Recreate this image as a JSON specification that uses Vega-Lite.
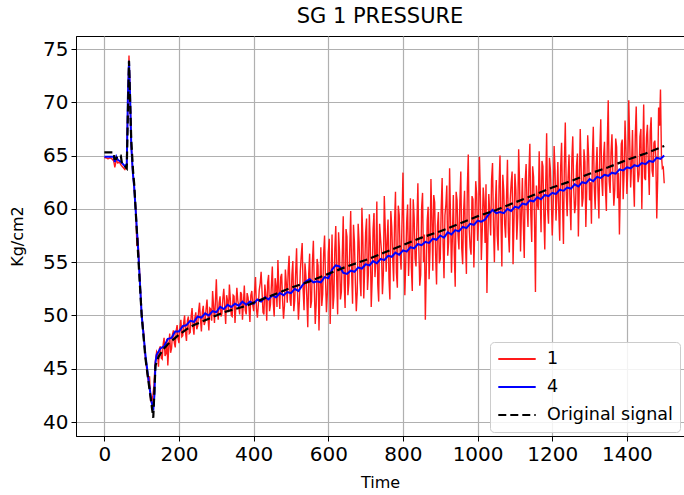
{
  "$schema": "https://vega.github.io/schema/vega-lite/v6.json",
  "width": 608,
  "height": 400,
  "autosize": {"type": "none"},
  "padding": {"left": 76, "top": 36, "right": 0, "bottom": 59},
  "title": {"text": "SG 1 PRESSURE", "fontSize": 21, "font": "DejaVu Sans", "fontWeight": "normal", "color": "#000", "offset": 9},
  "datasets": {
    "red": [
      {"t":0,"v":64.8},{"t":5,"v":64.8},{"t":10,"v":64.7},{"t":15,"v":64.8},{"t":20,"v":64.7},{"t":25,"v":64.5},{"t":28,"v":63.9},{"t":32,"v":64.6},{"t":36,"v":64.3},{"t":40,"v":64.4},{"t":45,"v":64.1},{"t":50,"v":63.9},{"t":55,"v":63.7},{"t":60,"v":64.0},{"t":63,"v":70.0},{"t":66,"v":74.4},{"t":69,"v":70.5},{"t":72,"v":66.0},{"t":76,"v":63.5},{"t":80,"v":62.0},{"t":85,"v":59.5},{"t":87,"v":56.5},{"t":90,"v":57.3},{"t":95,"v":53.5},{"t":100,"v":50.0},{"t":105,"v":48.5},{"t":110,"v":46.0},{"t":115,"v":44.5},{"t":118,"v":43.8},{"t":121,"v":44.3},{"t":124,"v":42.0},{"t":127,"v":41.8},{"t":130,"v":42.5},{"t":133,"v":43.5},{"t":136,"v":45.5},
      {"t":140,"v":46.6},{"t":145,"v":45.2},{"t":150,"v":47.1},{"t":155,"v":45.9},{"t":160,"v":47.9},{"t":165,"v":46.4},{"t":170,"v":45.3},{"t":175,"v":48.3},{"t":180,"v":46.9},{"t":185,"v":48.6},{"t":190,"v":47.0},{"t":195,"v":49.1},
      {"t":200,"v":47.4},{"t":205,"v":49.6},{"t":210,"v":48.1},{"t":215,"v":50.0},{"t":220,"v":47.6},{"t":225,"v":49.9},{"t":230,"v":48.4},{"t":235,"v":50.7},{"t":240,"v":48.2},{"t":245,"v":50.3},{"t":250,"v":49.0},{"t":255,"v":51.2},{"t":260,"v":48.5},{"t":265,"v":50.9},{"t":270,"v":49.4},{"t":275,"v":51.5},{"t":280,"v":48.6},{"t":285,"v":50.6},{"t":290,"v":52.3},{"t":295,"v":49.3},
      {"t":300,"v":53.4},{"t":305,"v":49.6},{"t":310,"v":51.8},{"t":315,"v":50.2},{"t":320,"v":52.5},{"t":325,"v":49.2},{"t":330,"v":51.4},{"t":335,"v":52.9},{"t":340,"v":50.0},{"t":345,"v":51.9},{"t":350,"v":49.3},{"t":355,"v":52.6},{"t":360,"v":50.9},{"t":365,"v":52.2},{"t":370,"v":49.6},{"t":375,"v":52.8},{"t":380,"v":50.1},{"t":385,"v":51.7},{"t":390,"v":49.4},{"t":395,"v":52.3},
      {"t":400,"v":50.4},{"t":405,"v":53.6},{"t":410,"v":49.8},{"t":415,"v":52.4},{"t":420,"v":54.1},{"t":425,"v":50.3},{"t":430,"v":52.9},{"t":435,"v":49.5},{"t":440,"v":53.8},{"t":445,"v":51.0},{"t":450,"v":54.6},{"t":455,"v":49.9},{"t":460,"v":52.7},{"t":465,"v":55.2},{"t":470,"v":50.6},{"t":475,"v":53.9},{"t":480,"v":49.7},{"t":485,"v":54.3},{"t":490,"v":51.2},{"t":495,"v":55.6},
      {"t":500,"v":50.9},{"t":505,"v":55.1},{"t":510,"v":51.4},{"t":515,"v":56.3},{"t":520,"v":49.6},{"t":525,"v":54.2},{"t":530,"v":56.8},{"t":535,"v":50.5},{"t":540,"v":53.7},{"t":545,"v":48.9},{"t":550,"v":55.8},{"t":555,"v":51.3},{"t":560,"v":57.0},{"t":565,"v":49.2},{"t":570,"v":55.3},{"t":575,"v":48.6},{"t":580,"v":56.4},{"t":585,"v":52.0},{"t":590,"v":57.5},{"t":595,"v":50.3},
      {"t":600,"v":55.9},{"t":605,"v":49.2},{"t":610,"v":57.6},{"t":615,"v":51.8},{"t":620,"v":58.4},{"t":625,"v":50.1},{"t":630,"v":56.0},{"t":635,"v":52.2},{"t":640,"v":59.3},{"t":645,"v":50.7},{"t":650,"v":57.4},{"t":655,"v":53.0},{"t":660,"v":59.8},{"t":665,"v":51.1},{"t":670,"v":56.9},{"t":675,"v":50.4},{"t":680,"v":58.6},{"t":685,"v":53.3},{"t":690,"v":60.1},{"t":695,"v":51.6},
      {"t":700,"v":57.8},{"t":705,"v":52.4},{"t":710,"v":59.5},{"t":715,"v":50.8},{"t":720,"v":58.1},{"t":725,"v":53.6},{"t":730,"v":60.7},{"t":735,"v":51.3},{"t":740,"v":57.2},{"t":745,"v":52.0},{"t":750,"v":61.2},{"t":755,"v":54.1},{"t":760,"v":59.0},{"t":765,"v":51.5},{"t":770,"v":58.3},{"t":775,"v":53.2},{"t":780,"v":61.6},{"t":785,"v":52.6},{"t":790,"v":59.4},{"t":795,"v":54.3},
      {"t":800,"v":63.4},{"t":805,"v":51.9},{"t":810,"v":58.8},{"t":815,"v":53.7},{"t":820,"v":61.0},{"t":825,"v":52.3},{"t":830,"v":59.2},{"t":835,"v":54.6},{"t":840,"v":62.4},{"t":845,"v":52.8},{"t":850,"v":60.1},{"t":855,"v":55.0},{"t":860,"v":49.6},{"t":865,"v":58.9},{"t":870,"v":53.4},{"t":875,"v":62.8},{"t":880,"v":54.2},{"t":885,"v":60.6},{"t":890,"v":52.9},{"t":895,"v":59.7},
      {"t":900,"v":55.3},{"t":905,"v":62.9},{"t":910,"v":53.5},{"t":915,"v":60.4},{"t":920,"v":55.6},{"t":925,"v":63.8},{"t":930,"v":54.0},{"t":935,"v":61.3},{"t":940,"v":52.7},{"t":945,"v":60.8},{"t":950,"v":56.2},{"t":955,"v":63.5},{"t":960,"v":54.8},{"t":965,"v":61.7},{"t":970,"v":53.9},{"t":975,"v":65.1},{"t":980,"v":56.4},{"t":985,"v":61.2},{"t":990,"v":54.5},{"t":995,"v":62.6},
      {"t":1000,"v":57.0},{"t":1005,"v":64.9},{"t":1010,"v":55.2},{"t":1015,"v":62.0},{"t":1020,"v":56.8},{"t":1025,"v":52.1},{"t":1030,"v":61.4},{"t":1035,"v":57.5},{"t":1040,"v":64.3},{"t":1045,"v":55.0},{"t":1050,"v":62.7},{"t":1055,"v":56.1},{"t":1060,"v":65.0},{"t":1065,"v":54.6},{"t":1070,"v":61.8},{"t":1075,"v":57.3},{"t":1080,"v":64.6},{"t":1085,"v":55.9},{"t":1090,"v":62.5},{"t":1095,"v":54.8},
      {"t":1100,"v":63.3},{"t":1105,"v":57.1},{"t":1110,"v":65.6},{"t":1115,"v":56.0},{"t":1120,"v":62.9},{"t":1125,"v":55.4},{"t":1130,"v":64.2},{"t":1135,"v":58.3},{"t":1140,"v":66.1},{"t":1145,"v":56.9},{"t":1150,"v":63.0},{"t":1155,"v":52.2},{"t":1160,"v":60.5},{"t":1165,"v":65.4},{"t":1170,"v":57.8},{"t":1175,"v":64.0},{"t":1180,"v":56.2},{"t":1185,"v":67.1},{"t":1190,"v":58.6},{"t":1195,"v":63.7},
      {"t":1200,"v":57.5},{"t":1205,"v":65.9},{"t":1210,"v":58.9},{"t":1215,"v":64.4},{"t":1220,"v":57.0},{"t":1225,"v":66.2},{"t":1230,"v":56.7},{"t":1235,"v":68.1},{"t":1240,"v":59.3},{"t":1245,"v":65.1},{"t":1250,"v":58.0},{"t":1255,"v":66.8},{"t":1260,"v":59.6},{"t":1265,"v":64.0},{"t":1270,"v":57.4},{"t":1275,"v":67.5},{"t":1280,"v":60.2},{"t":1285,"v":65.6},{"t":1290,"v":58.3},{"t":1295,"v":66.9},
      {"t":1300,"v":60.8},{"t":1305,"v":58.6},{"t":1310,"v":67.7},{"t":1315,"v":60.0},{"t":1320,"v":65.8},{"t":1325,"v":59.1},{"t":1330,"v":68.4},{"t":1335,"v":61.2},{"t":1340,"v":66.3},{"t":1345,"v":59.8},{"t":1350,"v":70.2},{"t":1355,"v":61.5},{"t":1360,"v":67.0},{"t":1365,"v":60.3},{"t":1370,"v":66.6},{"t":1375,"v":61.0},{"t":1380,"v":57.6},{"t":1385,"v":66.1},{"t":1390,"v":60.9},{"t":1395,"v":68.3},
      {"t":1400,"v":61.4},{"t":1405,"v":70.2},{"t":1410,"v":62.0},{"t":1415,"v":67.4},{"t":1420,"v":60.2},{"t":1425,"v":69.6},{"t":1430,"v":62.5},{"t":1435,"v":66.8},{"t":1440,"v":60.0},{"t":1445,"v":69.8},{"t":1450,"v":62.7},{"t":1455,"v":67.9},{"t":1460,"v":61.3},{"t":1465,"v":68.6},{"t":1470,"v":63.0},{"t":1475,"v":66.4},{"t":1480,"v":59.1},{"t":1485,"v":69.5},{"t":1490,"v":71.2},{"t":1495,"v":63.8},{"t":1500,"v":62.4},
      {"t":142.5,"v":46.4},{"t":147.5,"v":46.9},{"t":152.5,"v":46.0},{"t":157.5,"v":47.3},{"t":162.5,"v":46.2},{"t":167.5,"v":47.8},{"t":172.5,"v":47.0},{"t":177.5,"v":46.5},{"t":182.5,"v":48.2},{"t":187.5,"v":47.4},{"t":192.5,"v":48.6},{"t":197.5,"v":47.8},
      {"t":202.5,"v":48.9},{"t":207.5,"v":48.0},{"t":212.5,"v":49.3},{"t":217.5,"v":48.4},{"t":222.5,"v":49.5},{"t":227.5,"v":48.3},{"t":232.5,"v":49.9},{"t":237.5,"v":49.0},{"t":242.5,"v":49.8},{"t":247.5,"v":48.7},{"t":252.5,"v":50.4},{"t":257.5,"v":49.6},{"t":262.5,"v":50.3},{"t":267.5,"v":49.1},{"t":272.5,"v":50.6},{"t":277.5,"v":49.9},{"t":282.5,"v":50.7},{"t":287.5,"v":49.5},{"t":292.5,"v":50.9},{"t":297.5,"v":51.3},
      {"t":302.5,"v":50.6},{"t":307.5,"v":51.2},{"t":312.5,"v":49.9},{"t":317.5,"v":51.6},{"t":322.5,"v":50.8},{"t":327.5,"v":51.9},{"t":332.5,"v":50.3},{"t":337.5,"v":51.5},{"t":342.5,"v":49.9},{"t":347.5,"v":51.8},{"t":352.5,"v":50.9},{"t":357.5,"v":51.4},{"t":362.5,"v":50.1},{"t":367.5,"v":52.0},{"t":372.5,"v":51.1},{"t":377.5,"v":50.5},{"t":382.5,"v":52.1},{"t":387.5,"v":50.7},{"t":392.5,"v":51.9},{"t":397.5,"v":51.0},
      {"t":402.5,"v":52.3},{"t":407.5,"v":50.6},{"t":412.5,"v":51.0},{"t":417.5,"v":53.0},{"t":422.5,"v":52.2},{"t":427.5,"v":50.1},{"t":432.5,"v":51.9},{"t":437.5,"v":53.1},{"t":442.5,"v":50.4},{"t":447.5,"v":52.8},{"t":452.5,"v":51.2},{"t":457.5,"v":53.5},{"t":462.5,"v":50.8},{"t":467.5,"v":52.4},{"t":472.5,"v":53.6},{"t":477.5,"v":51.4},{"t":482.5,"v":50.9},{"t":487.5,"v":53.0},{"t":492.5,"v":54.2},{"t":497.5,"v":51.5},
      {"t":502.5,"v":53.8},{"t":507.5,"v":50.4},{"t":512.5,"v":54.0},{"t":517.5,"v":52.1},{"t":522.5,"v":51.3},{"t":527.5,"v":55.6},{"t":532.5,"v":52.4},{"t":537.5,"v":54.9},{"t":542.5,"v":51.6},{"t":547.5,"v":53.9},{"t":552.5,"v":50.7},{"t":557.5,"v":55.1},{"t":562.5,"v":52.6},{"t":567.5,"v":51.0},{"t":572.5,"v":54.7},{"t":577.5,"v":52.3},{"t":582.5,"v":50.9},{"t":587.5,"v":55.8},{"t":592.5,"v":53.4},{"t":597.5,"v":52.1},
      {"t":602.5,"v":57.2},{"t":607.5,"v":52.9},{"t":612.5,"v":50.6},{"t":617.5,"v":56.3},{"t":622.5,"v":53.4},{"t":627.5,"v":57.8},{"t":632.5,"v":51.5},{"t":637.5,"v":55.7},{"t":642.5,"v":53.0},{"t":647.5,"v":58.1},{"t":652.5,"v":51.9},{"t":657.5,"v":56.4},{"t":662.5,"v":54.0},{"t":667.5,"v":58.5},{"t":672.5,"v":53.1},{"t":677.5,"v":52.2},{"t":682.5,"v":56.9},{"t":687.5,"v":51.8},{"t":692.5,"v":57.3},{"t":697.5,"v":54.4},
      {"t":702.5,"v":59.1},{"t":707.5,"v":54.0},{"t":712.5,"v":56.8},{"t":717.5,"v":53.3},{"t":722.5,"v":59.6},{"t":727.5,"v":55.1},{"t":732.5,"v":52.9},{"t":737.5,"v":58.6},{"t":742.5,"v":56.0},{"t":747.5,"v":53.9},{"t":752.5,"v":58.2},{"t":757.5,"v":57.0},{"t":762.5,"v":53.5},{"t":767.5,"v":59.8},{"t":772.5,"v":55.4},{"t":777.5,"v":58.7},{"t":782.5,"v":54.0},{"t":787.5,"v":60.3},{"t":792.5,"v":55.6},{"t":797.5,"v":58.9},
      {"t":802.5,"v":57.3},{"t":807.5,"v":55.0},{"t":812.5,"v":60.4},{"t":817.5,"v":56.2},{"t":822.5,"v":54.5},{"t":827.5,"v":60.9},{"t":832.5,"v":55.3},{"t":837.5,"v":58.7},{"t":842.5,"v":56.4},{"t":847.5,"v":53.8},{"t":852.5,"v":61.5},{"t":857.5,"v":57.6},{"t":862.5,"v":54.3},{"t":867.5,"v":60.2},{"t":872.5,"v":56.1},{"t":877.5,"v":59.0},{"t":882.5,"v":61.3},{"t":887.5,"v":55.7},{"t":892.5,"v":58.4},{"t":897.5,"v":54.9},
      {"t":902.5,"v":60.1},{"t":907.5,"v":56.8},{"t":912.5,"v":59.4},{"t":917.5,"v":62.2},{"t":922.5,"v":56.9},{"t":927.5,"v":59.1},{"t":932.5,"v":57.4},{"t":937.5,"v":55.9},{"t":942.5,"v":61.6},{"t":947.5,"v":57.5},{"t":952.5,"v":60.7},{"t":957.5,"v":56.3},{"t":962.5,"v":59.8},{"t":967.5,"v":57.0},{"t":972.5,"v":62.0},{"t":977.5,"v":58.1},{"t":982.5,"v":55.7},{"t":987.5,"v":60.9},{"t":992.5,"v":58.3},{"t":997.5,"v":61.4},
      {"t":1002.5,"v":58.6},{"t":1007.5,"v":61.2},{"t":1012.5,"v":58.0},{"t":1017.5,"v":60.7},{"t":1022.5,"v":62.3},{"t":1027.5,"v":57.1},{"t":1032.5,"v":59.6},{"t":1037.5,"v":62.8},{"t":1042.5,"v":58.4},{"t":1047.5,"v":60.3},{"t":1052.5,"v":57.5},{"t":1057.5,"v":62.1},{"t":1062.5,"v":59.0},{"t":1067.5,"v":63.2},{"t":1072.5,"v":58.6},{"t":1077.5,"v":61.1},{"t":1082.5,"v":57.8},{"t":1087.5,"v":60.9},{"t":1092.5,"v":63.5},{"t":1097.5,"v":58.9},
      {"t":1102.5,"v":61.8},{"t":1107.5,"v":59.2},{"t":1112.5,"v":62.4},{"t":1117.5,"v":59.7},{"t":1122.5,"v":58.6},{"t":1127.5,"v":62.6},{"t":1132.5,"v":60.3},{"t":1137.5,"v":63.4},{"t":1142.5,"v":59.5},{"t":1147.5,"v":64.0},{"t":1152.5,"v":58.9},{"t":1157.5,"v":62.2},{"t":1162.5,"v":59.9},{"t":1167.5,"v":61.6},{"t":1172.5,"v":64.5},{"t":1177.5,"v":59.4},{"t":1182.5,"v":62.3},{"t":1187.5,"v":60.0},{"t":1192.5,"v":64.8},{"t":1197.5,"v":61.0},
      {"t":1202.5,"v":60.2},{"t":1207.5,"v":63.6},{"t":1212.5,"v":61.2},{"t":1217.5,"v":59.8},{"t":1222.5,"v":63.9},{"t":1227.5,"v":60.6},{"t":1232.5,"v":64.3},{"t":1237.5,"v":61.5},{"t":1242.5,"v":63.0},{"t":1247.5,"v":60.7},{"t":1252.5,"v":64.6},{"t":1257.5,"v":61.9},{"t":1262.5,"v":60.4},{"t":1267.5,"v":65.2},{"t":1272.5,"v":62.2},{"t":1277.5,"v":63.7},{"t":1282.5,"v":61.0},{"t":1287.5,"v":64.4},{"t":1292.5,"v":61.8},{"t":1297.5,"v":64.9},
      {"t":1302.5,"v":62.5},{"t":1307.5,"v":64.8},{"t":1312.5,"v":62.1},{"t":1317.5,"v":63.9},{"t":1322.5,"v":61.7},{"t":1327.5,"v":65.5},{"t":1332.5,"v":62.8},{"t":1337.5,"v":64.9},{"t":1342.5,"v":61.9},{"t":1347.5,"v":66.2},{"t":1352.5,"v":62.6},{"t":1357.5,"v":65.3},{"t":1362.5,"v":63.1},{"t":1367.5,"v":61.8},{"t":1372.5,"v":65.8},{"t":1377.5,"v":63.4},{"t":1382.5,"v":62.0},{"t":1387.5,"v":66.5},{"t":1392.5,"v":63.3},{"t":1397.5,"v":65.6},
      {"t":1402.5,"v":63.7},{"t":1407.5,"v":66.4},{"t":1412.5,"v":64.1},{"t":1417.5,"v":62.8},{"t":1422.5,"v":66.9},{"t":1427.5,"v":64.4},{"t":1432.5,"v":63.2},{"t":1437.5,"v":67.5},{"t":1442.5,"v":64.9},{"t":1447.5,"v":62.9},{"t":1452.5,"v":66.7},{"t":1457.5,"v":64.2},{"t":1462.5,"v":67.3},{"t":1467.5,"v":63.6},{"t":1472.5,"v":66.2},{"t":1477.5,"v":64.8},{"t":1482.5,"v":62.7},{"t":1487.5,"v":67.8},{"t":1492.5,"v":65.1},{"t":1497.5,"v":63.9}
    ],
    "blue": [
      {"t":0,"v":64.9},{"t":25,"v":64.9},{"t":28,"v":64.4},{"t":32,"v":64.9},{"t":36,"v":64.6},{"t":45,"v":64.4},{"t":55,"v":64.0},{"t":60,"v":64.2},{"t":63,"v":70.5},{"t":66,"v":73.9},{"t":69,"v":70.5},{"t":72,"v":66.0},{"t":76,"v":63.5},{"t":80,"v":62.0},{"t":90,"v":56.5},{"t":100,"v":50.0},{"t":110,"v":46.3},{"t":120,"v":43.5},{"t":126,"v":42.0},{"t":131,"v":41.1},{"t":134,"v":42.5},{"t":137,"v":45.6},
      {"t":140,"v":46.3},{"t":150,"v":46.9},{"t":160,"v":47.1},{"t":170,"v":47.8},{"t":180,"v":47.9},{"t":190,"v":48.5},{"t":200,"v":48.5},{"t":210,"v":49.0},{"t":220,"v":49.1},{"t":230,"v":49.5},{"t":240,"v":49.4},{"t":250,"v":49.9},{"t":260,"v":49.8},{"t":270,"v":50.2},{"t":280,"v":50.0},{"t":290,"v":50.4},{"t":300,"v":50.3},{"t":310,"v":50.8},{"t":320,"v":50.6},{"t":330,"v":51.0},{"t":340,"v":50.8},{"t":350,"v":51.1},{"t":360,"v":50.9},{"t":370,"v":51.3},{"t":380,"v":51.0},{"t":390,"v":51.3},
      {"t":400,"v":51.1},{"t":410,"v":51.5},{"t":420,"v":51.3},{"t":430,"v":51.7},{"t":440,"v":51.5},{"t":450,"v":51.9},{"t":460,"v":51.7},{"t":470,"v":52.1},{"t":480,"v":51.9},{"t":490,"v":52.2},{"t":500,"v":52.1},{"t":510,"v":52.5},{"t":520,"v":52.3},{"t":530,"v":52.8},{"t":540,"v":53.2},{"t":550,"v":53.4},{"t":560,"v":53.1},{"t":570,"v":53.2},{"t":580,"v":53.1},{"t":590,"v":53.6},
      {"t":600,"v":53.5},{"t":610,"v":54.3},{"t":620,"v":54.7},{"t":630,"v":54.6},{"t":640,"v":54.0},{"t":650,"v":53.9},{"t":660,"v":54.2},{"t":670,"v":54.1},{"t":680,"v":54.5},{"t":690,"v":54.4},{"t":700,"v":54.8},{"t":710,"v":54.7},{"t":720,"v":55.1},{"t":730,"v":54.9},{"t":740,"v":55.3},{"t":750,"v":55.2},{"t":760,"v":55.6},{"t":770,"v":55.5},{"t":780,"v":55.9},{"t":790,"v":55.7},
      {"t":800,"v":56.1},{"t":810,"v":56.0},{"t":820,"v":56.4},{"t":830,"v":56.3},{"t":840,"v":56.7},{"t":850,"v":56.6},{"t":860,"v":56.9},{"t":870,"v":56.8},{"t":880,"v":57.2},{"t":890,"v":57.1},{"t":900,"v":57.5},{"t":910,"v":57.3},{"t":920,"v":57.8},{"t":930,"v":57.6},{"t":940,"v":58.0},{"t":950,"v":57.9},{"t":960,"v":58.3},{"t":970,"v":58.2},{"t":980,"v":58.6},{"t":990,"v":58.5},
      {"t":1000,"v":58.9},{"t":1010,"v":58.8},{"t":1020,"v":59.0},{"t":1030,"v":59.5},{"t":1040,"v":59.9},{"t":1050,"v":59.6},{"t":1060,"v":59.7},{"t":1070,"v":59.6},{"t":1080,"v":60.0},{"t":1090,"v":59.8},{"t":1100,"v":60.2},{"t":1110,"v":60.1},{"t":1120,"v":60.5},{"t":1130,"v":60.4},{"t":1140,"v":60.8},{"t":1150,"v":60.7},{"t":1160,"v":61.1},{"t":1170,"v":60.9},{"t":1180,"v":61.3},{"t":1190,"v":61.2},
      {"t":1200,"v":61.5},{"t":1210,"v":61.4},{"t":1220,"v":61.8},{"t":1230,"v":61.7},{"t":1240,"v":62.0},{"t":1250,"v":61.9},{"t":1260,"v":62.3},{"t":1270,"v":62.1},{"t":1280,"v":62.5},{"t":1290,"v":62.4},{"t":1300,"v":62.8},{"t":1310,"v":62.6},{"t":1320,"v":63.0},{"t":1330,"v":62.9},{"t":1340,"v":63.2},{"t":1350,"v":63.1},{"t":1360,"v":63.4},{"t":1370,"v":63.3},{"t":1380,"v":63.7},{"t":1390,"v":63.6},
      {"t":1400,"v":63.9},{"t":1410,"v":63.8},{"t":1420,"v":64.1},{"t":1430,"v":64.0},{"t":1440,"v":64.3},{"t":1450,"v":64.2},{"t":1460,"v":64.5},{"t":1470,"v":64.4},{"t":1480,"v":64.8},{"t":1490,"v":64.7},{"t":1500,"v":65.0}
    ],
    "black": [
      {"t":0,"v":65.3},{"t":25,"v":65.3},{"t":27,"v":64.7},{"t":32,"v":64.7},{"t":35,"v":65.0},{"t":44,"v":65.0},{"t":47,"v":64.3},{"t":60,"v":63.8},{"t":66,"v":73.9},{"t":72,"v":66.5},{"t":77,"v":63.5},{"t":80,"v":62.3},{"t":90,"v":56.0},{"t":100,"v":50.0},{"t":110,"v":46.0},{"t":120,"v":43.3},{"t":125,"v":42.0},{"t":131,"v":40.4},{"t":137,"v":45.3},{"t":145,"v":46.1},{"t":150,"v":46.4},{"t":160,"v":46.9},{"t":170,"v":47.3},{"t":180,"v":47.6},{"t":190,"v":47.9},{"t":200,"v":48.2},{"t":220,"v":48.7},{"t":240,"v":49.1},{"t":260,"v":49.4},{"t":280,"v":49.7},{"t":300,"v":50.0},{"t":320,"v":50.3},{"t":340,"v":50.5},{"t":360,"v":50.7},{"t":380,"v":50.9},{"t":400,"v":51.2},{"t":450,"v":51.9},{"t":500,"v":52.6},{"t":550,"v":53.2},{"t":600,"v":53.9},{"t":650,"v":54.6},{"t":700,"v":55.2},{"t":750,"v":55.9},{"t":800,"v":56.6},{"t":850,"v":57.3},{"t":900,"v":57.9},{"t":950,"v":58.6},{"t":1000,"v":59.3},{"t":1050,"v":59.9},{"t":1100,"v":60.6},{"t":1150,"v":61.3},{"t":1200,"v":62.0},{"t":1250,"v":62.6},{"t":1300,"v":63.3},{"t":1350,"v":63.9},{"t":1400,"v":64.6},{"t":1450,"v":65.2},{"t":1500,"v":65.9}
    ]
  },
  "encoding": {
    "x": {"field": "t", "type": "quantitative", "scale": {"domain": [-76, 1553], "nice": false, "zero": false},
      "axis": {"values": [0, 200, 400, 600, 800, 1000, 1200, 1400], "format": "d", "title": "Time"}},
    "y": {"field": "v", "type": "quantitative", "scale": {"domain": [38.69, 76.22], "nice": false, "zero": false},
      "axis": {"values": [40, 45, 50, 55, 60, 65, 70, 75], "format": "d", "title": "Kg/cm2"}},
    "color": {"field": "s", "type": "nominal", "scale": {"domain": ["1", "4", "Original signal"], "range": ["#ff1a1a", "#0000ff", "#000000"]},
      "legend": {"title": null, "orient": "bottom-right"}},
    "strokeDash": {"field": "s", "type": "nominal", "scale": {"domain": ["1", "4", "Original signal"], "range": [[1, 0], [1, 0], [8, 4]]},
      "legend": {"title": null, "orient": "bottom-right"}}
  },
  "layer": [
    {"data": {"name": "red"}, "transform": [{"calculate": "'1'", "as": "s"}], "mark": {"type": "line", "strokeWidth": 1.4, "opacity": 1}},
    {"data": {"name": "blue"}, "transform": [{"calculate": "'4'", "as": "s"}], "mark": {"type": "line", "strokeWidth": 2}},
    {"data": {"name": "black"}, "transform": [{"calculate": "'Original signal'", "as": "s"}], "mark": {"type": "line", "strokeWidth": 2.2}}
  ],
  "config": {
    "font": "DejaVu Sans",
    "view": {"stroke": "#000", "strokeWidth": 1},
    "axis": {
      "labelFont": "DejaVu Sans", "labelFontSize": 20, "labelColor": "#000", "labelPadding": 3,
      "titleFont": "DejaVu Sans", "titleFontSize": 16, "titleFontWeight": "normal", "titleColor": "#000",
      "tickColor": "#000", "tickSize": 5, "domainColor": "#000", "grid": true, "gridColor": "#b0b0b0", "gridWidth": 1.2
    },
    "axisX": {"titlePadding": 10},
    "axisY": {"titlePadding": 17},
    "legend": {
      "labelFont": "DejaVu Sans", "labelFontSize": 17.5, "labelColor": "#000", "labelLimit": 300,
      "symbolType": "stroke", "symbolSize": 1400, "symbolStrokeWidth": 2,
      "fillColor": "rgba(255,255,255,0.85)", "strokeColor": "#cccccc", "cornerRadius": 4, "padding": 7,
      "rowPadding": 8, "clipHeight": 20, "offset": 4, "labelOffset": 10
    }
  }
}
